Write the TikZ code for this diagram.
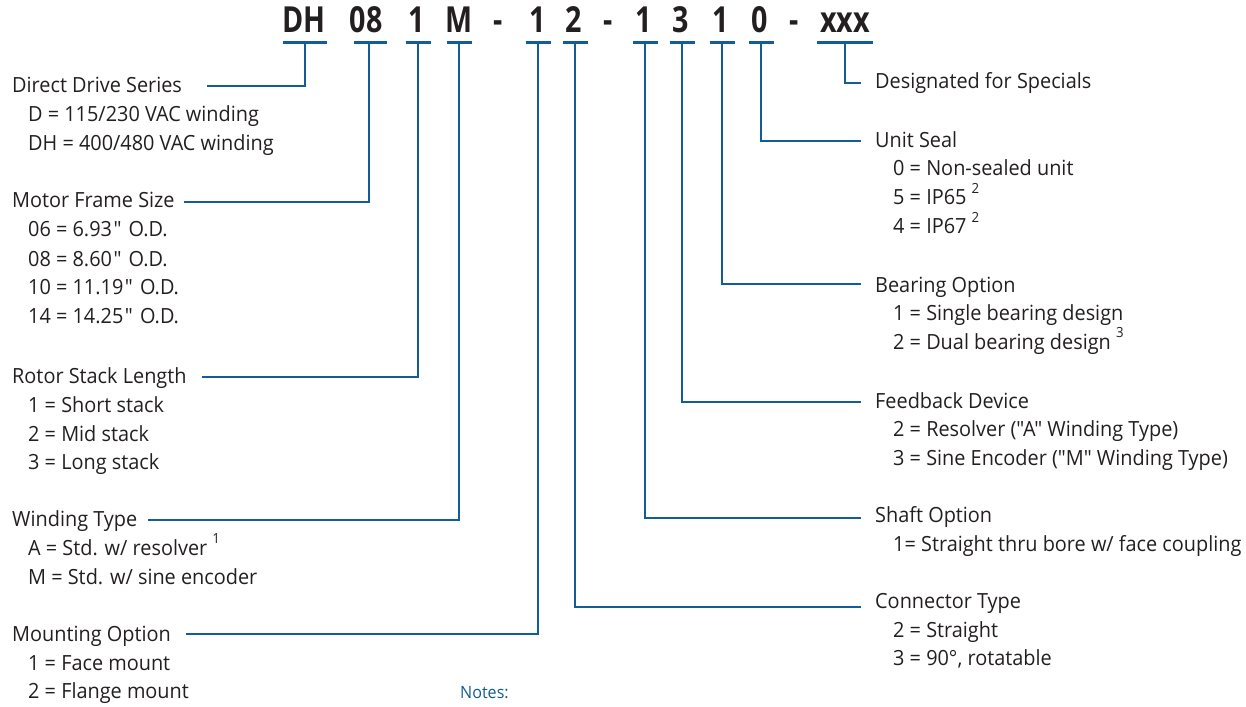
\documentclass[tikz,border=0pt]{standalone}
\usepackage{fontspec}
\setmainfont[FakeStretch=0.95,Ligatures=TeXOff]{Open Sans}
\newfontfamily\codefont[FakeStretch=0.8]{Open Sans}
\definecolor{txtc}{RGB}{35,31,32}
\definecolor{blu}{RGB}{18,92,152}
\tikzset{
  txt/.style={anchor=base west, inner sep=0pt, text=txtc, font=\fontsize{21}{21}\selectfont},
  code/.style={anchor=base, inner sep=0pt, text=txtc, font=\codefont\fontsize{36}{36}\selectfont\bfseries},
  notes/.style={anchor=base west, inner sep=0pt, text=blu, font=\fontsize{17}{17}\selectfont},
  uline/.style={draw=blu, line width=3bp},
  conn/.style={draw=blu, line width=2.5bp},
}
\newcommand{\sups}[1]{\raisebox{0.55em}{\fontsize{14}{14}\selectfont #1}}
\newcommand{\inch}{\hspace{1.5bp}"\hspace{2bp}}
\begin{document}
\begin{tikzpicture}[x=1bp, y=-1bp]
\useasboundingbox (0,0) rectangle (1246,707);
% code characters
\node[code] (c1) at (304,33) {DH};
\node[code] (c2) at (366,33) {08};
\node[code] (c3) at (417,33) {1};
\node[code] (c4) at (459,33) {M};
\node[code] (d1) at (498,33) {-};
\node[code] (c5) at (538,33) {1};
\node[code] (c6) at (574,33) {2};
\node[code] (d2) at (608,33) {-};
\node[code] (c7) at (644,33) {1};
\node[code] (c8) at (681,33) {3};
\node[code] (c9) at (721,33) {1};
\node[code] (c10) at (760,33) {0};
\node[code] (d3) at (794,33) {-};
\node[code] (c11) at (845,33) {xxx};
% underline anchor points (stem tops)
\coordinate (u1) at (305,43);
\coordinate (u2) at (369,43);
\coordinate (u3) at (418,43);
\coordinate (u4) at (459,43);
\coordinate (u5) at (538,43);
\coordinate (u6) at (575,43);
\coordinate (u7) at (645,43);
\coordinate (u8) at (682,43);
\coordinate (u9) at (722,43);
\coordinate (u10) at (761,43);
\coordinate (u11) at (845,43);
\draw[uline] (283,43) -- (327,43);
\draw[uline] (354,43) -- (387,43);
\foreach \u in {u3,u4,u5,u6,u7,u8,u9,u10}{
  \draw[uline] ([xshift=-12.5bp]\u) -- ([xshift=12.5bp]\u);
}
\draw[uline] (817,43) -- (873,43);
% left column
\node[txt] (h1) at (12,93) {Direct Drive Series};
\node[txt] at (28,122) {D = 115/230 VAC winding};
\node[txt] at (28,151) {DH = 400/480 VAC winding};
\node[txt] (h2) at (12,208) {Motor Frame Size};
\node[txt] at (28,237) {06 = 6.93\inch{} O.D.};
\node[txt] at (28,266) {08 = 8.60\inch{} O.D.};
\node[txt] at (28,294) {10 = 11.19\inch{} O.D.};
\node[txt] at (28,323) {14 = 14.25\inch{} O.D.};
\node[txt] (h3) at (12,383) {Rotor Stack Length};
\node[txt] at (28,412) {1 = Short stack};
\node[txt] at (28,441) {2 = Mid stack};
\node[txt] at (28,469) {3 = Long stack};
\node[txt] (h4) at (12,526) {Winding Type};
\node[txt] at (28,555) {A = Std. w/ resolver \sups{1}};
\node[txt] at (28,584) {M = Std. w/ sine encoder};
\node[txt] (h5) at (12,641) {Mounting Option};
\node[txt] at (28,670) {1 = Face mount};
\node[txt] at (28,698) {2 = Flange mount};
\node[notes] (nt) at (460,698) {Notes:};
% right column
\node[txt] (r1) at (875,89) {Designated for Specials};
\node[txt] (r2) at (875,148) {Unit Seal};
\node[txt] at (893,176) {0 = Non-sealed unit};
\node[txt] at (893,205) {5 = IP65 \sups{2}};
\node[txt] at (893,234) {4 = IP67 \sups{2}};
\node[txt] (r3) at (875,292) {Bearing Option};
\node[txt] at (893,320) {1 = Single bearing design};
\node[txt] at (893,349) {2 = Dual bearing design \sups{3}};
\node[txt] (r4) at (875,408) {Feedback Device};
\node[txt] at (893,436) {2 = Resolver ("A" Winding Type)};
\node[txt] at (893,465) {3 = Sine Encoder ("M" Winding Type)};
\node[txt] (r5) at (875,522) {Shaft Option};
\node[txt] at (893,551) {1= Straight thru bore w/ face coupling};
\node[txt] (r6) at (875,608) {Connector Type};
\node[txt] at (893,637) {2 = Straight};
\node[txt] at (893,665) {3 = 90°, rotatable};
% connector ends
\coordinate (e1) at (207,86);
\coordinate (e2) at (184,202);
\coordinate (e3) at (202,377);
\coordinate (e4) at (148,520);
\coordinate (e5) at (186,634);
\coordinate (f1) at (861,83);
\coordinate (f2) at (861,141);
\coordinate (f3) at (861,284);
\coordinate (f4) at (861,402);
\coordinate (f5) at (861,518);
\coordinate (f6) at (861,607);
\draw[conn] (u1) |- (e1);
\draw[conn] (u2) |- (e2);
\draw[conn] (u3) |- (e3);
\draw[conn] (u4) |- (e4);
\draw[conn] (u5) |- (e5);
\draw[conn] (u11) |- (f1);
\draw[conn] (u10) |- (f2);
\draw[conn] (u9) |- (f3);
\draw[conn] (u8) |- (f4);
\draw[conn] (u7) |- (f5);
\draw[conn] (u6) |- (f6);
\end{tikzpicture}
\end{document}
